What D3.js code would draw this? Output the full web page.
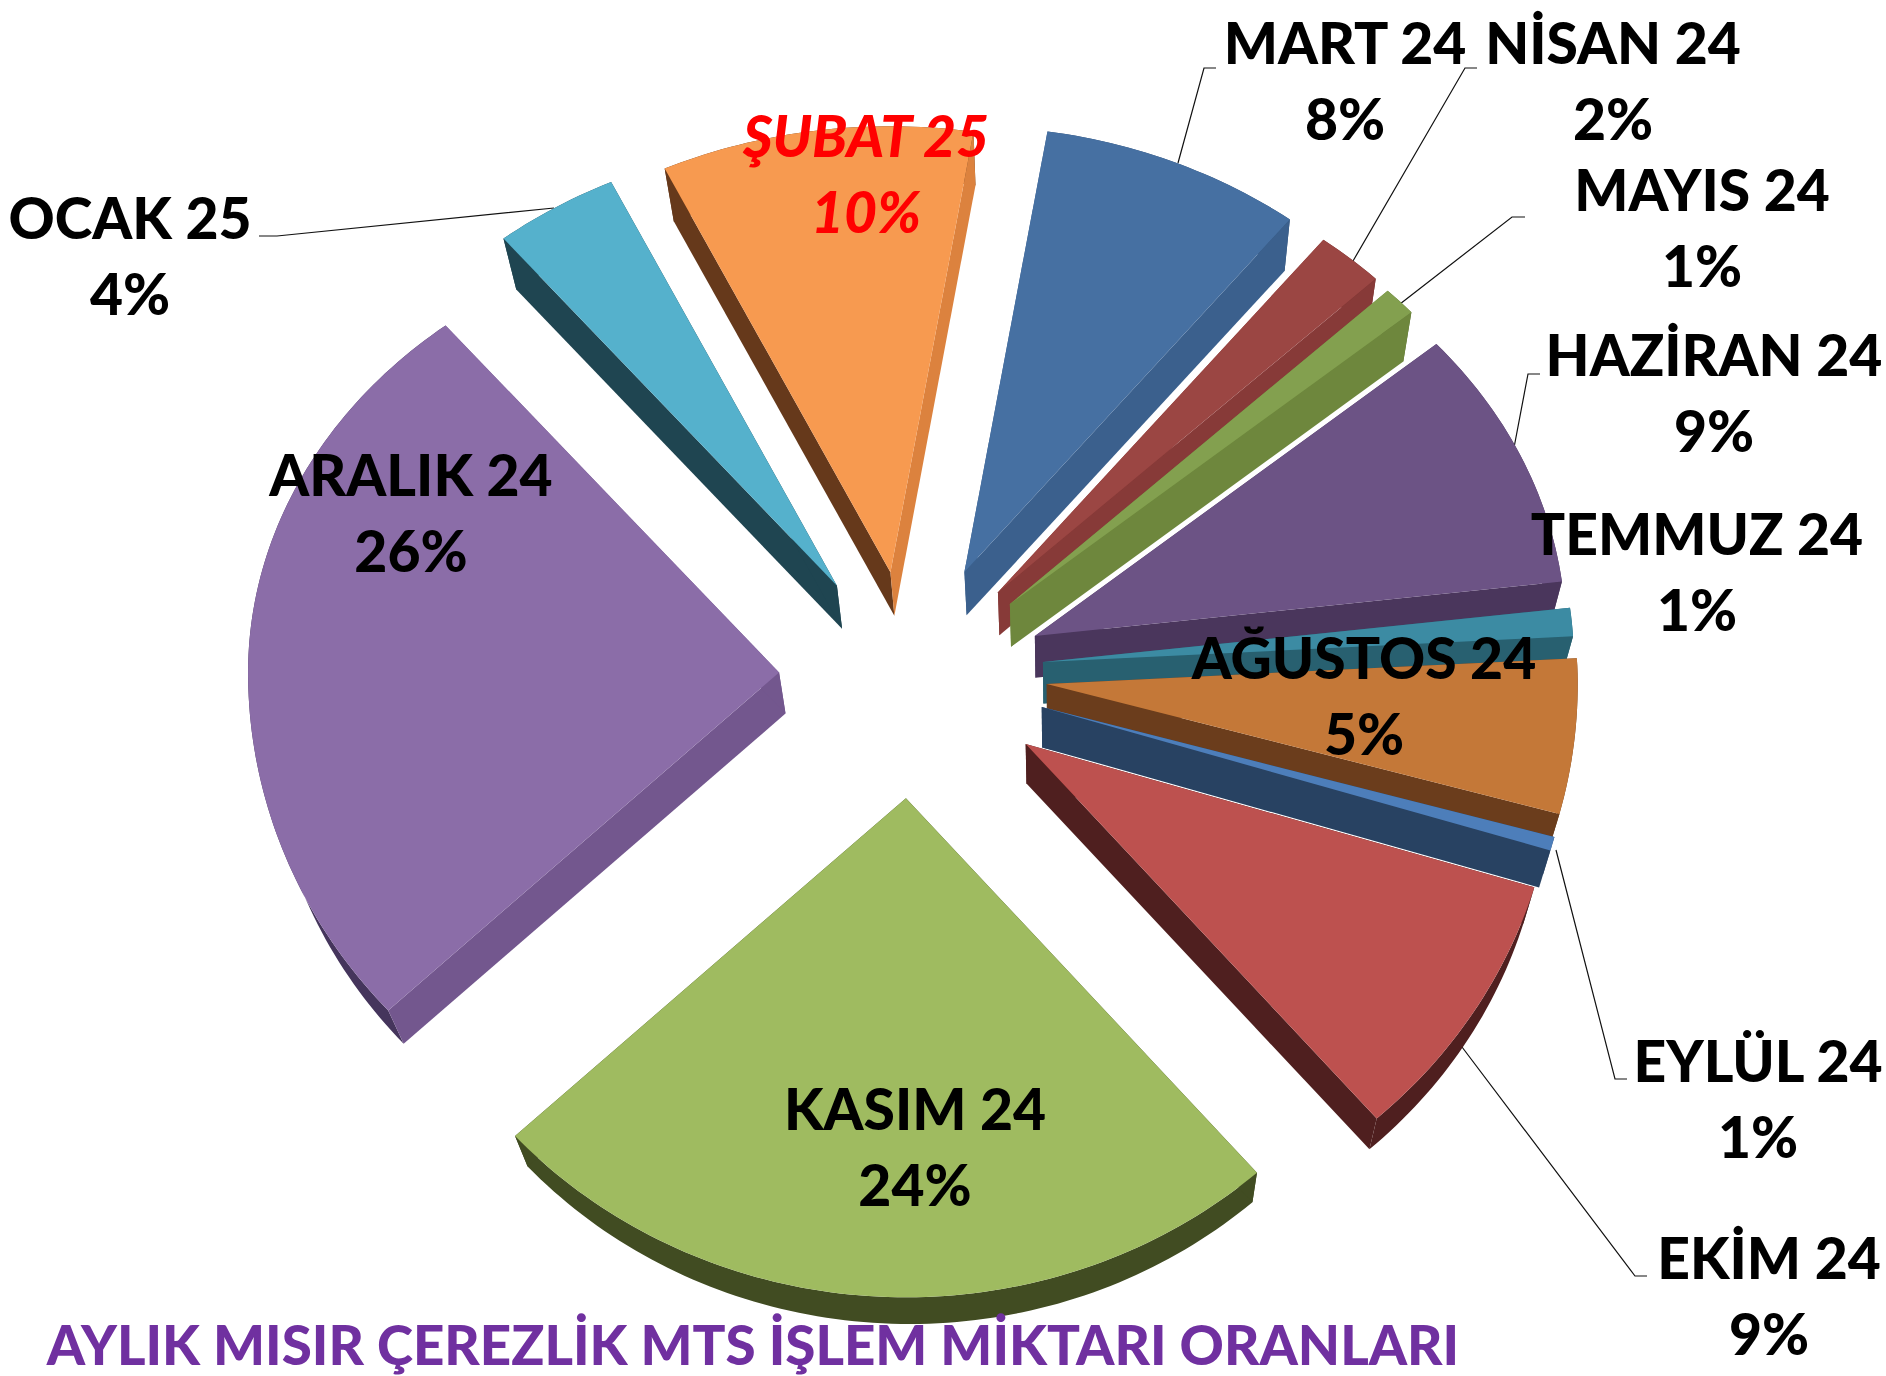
<!DOCTYPE html>
<html>
<head>
<meta charset="utf-8">
<style>
    html, body { margin: 0; padding: 0; background: #fff; }
    svg { display: block; }
    text { font-family: Lato, "Open Sans", sans-serif; font-weight: 900; text-anchor: middle; }
</style>
</head>
<body>
<div id="chart"></div>
<script src="https://cdn.jsdelivr.net/npm/d3@7"></script>
<script>
// Chart data
const months = ['MART 24', 'NİSAN 24', 'MAYIS 24', 'HAZİRAN 24', 'TEMMUZ 24', 'AĞUSTOS 24',
    'EYLÜL 24', 'EKİM 24', 'KASIM 24', 'ARALIK 24', 'OCAK 25', 'ŞUBAT 25'];
const shares = [8, 2, 1, 9, 1, 5, 1, 9, 24, 26, 4, 10];
const chartTitle = 'AYLIK MISIR ÇEREZLİK MTS İŞLEM MİKTARI ORANLARI';

// Face colours, same order as months
const topColors = ['#4670a2', '#9b4643', '#83a04f', '#6c5385', '#3c8ba3', '#c47838',
    '#4d7eba', '#bd514f', '#9fbb60', '#8b6da8', '#55b1cc', '#f79a50'];
const startWallColors = ['#3b608d', '#873a38', '#6e873d', '#4a365c', '#286070', '#6b3d1c',
    '#284262', '#4f1f1f', '#414c22', '#73578e', '#1f4551', '#66391b'];
const endWallColors = ['#3b608d', '#873a38', '#6e873d', '#4a365c', '#286070', '#6b3d1c',
    '#284262', '#4f1f1f', '#414c22', '#73578e', '#1f4551', '#dc823e'];
const rimColors = ['#2f4c70', '#6d2e2c', '#586c31', '#4a365c', '#286070', '#6b3d1c',
    '#284262', '#4f1f1f', '#414c22', '#45355c', '#1f4551', '#66391b'];

// Layout
const width = 1886;
const height = 1376;
const cx = 910;
const cy = 676;
const radius = 531;
const tiltUp = 0.84;
const tiltDown = 0.94;
const explodeX = [137, 133, 137, 138, 134, 137, 136, 137, 130, 131, 130, 125];
const explodeY = [135, 133, 125, 112, 132, 135, 133, 135, 130, 131, 130, 125];
const bottomScale = 0.977;
const bottomDrop = 41;
const bottomCx = 1060;

// The picture is not a true ellipse: nudge rim angles (degrees) to follow it
const rimWarp = d3.scaleLinear()
    .domain([0, 38, 48, 81, 103, 106.5, 138, 225, 320, 369])
    .range([0, 0, 0.5, 2, 2.5, 0.3, 0, 2.4, 2.5, 0]);

// label centre x, first baseline y
const labelPos = [[1345, 64], [1613, 64], [1702, 211], [1714, 376], [1697, 555], [1364, 679],
    [1758, 1082], [1769, 1279], [915, 1130], [411, 496], [130, 239], [866, 157]];
const lineGap = 76;

const leaders = [
    [[1216, 68], [1204, 68], [1178, 163]],
    [[1477, 68], [1465, 68], [1353, 261]],
    [[1525, 217], [1512, 217], [1400, 304]],
    [[1540, 374], [1528, 374], [1513, 453]],
    [[1627, 1079], [1615, 1079], [1556, 850]],
    [[1647, 1276], [1635, 1276], [1462, 1047]],
    [[259, 236], [277, 236], [554, 208]]
];

const svg = d3.select('#chart')
    .append('svg')
    .attr('width', width)
    .attr('height', height);

// Pie angles, first slice starts a little past twelve o'clock
const startDeg = 9;
const pie = d3.pie()
    .sort(null)
    .startAngle(startDeg * Math.PI / 180)
    .endAngle((startDeg + 360) * Math.PI / 180);

const slices = pie(shares).map((d, i) => {
    const mid = (d.startAngle + d.endAngle) / 2;
    return {
        i,
        start: d.startAngle,
        end: d.endAngle,
        mid,
        ax: cx + explodeX[i] * Math.sin(mid),
        ay: cy - explodeY[i] * Math.cos(mid) * (Math.cos(mid) > 0 ? tiltUp : tiltDown)
    };
});

// Top face point, the rim is flatter towards the back than the front
function topPoint(s, angle, r) {
    const a = angle + rimWarp(angle * 180 / Math.PI) * Math.PI / 180;
    const c = Math.cos(a);
    return [
        s.ax + r * Math.sin(a),
        s.ay - r * c * (c > 0 ? tiltUp : tiltDown)
    ];
}

// Matching point on the underside
function lowPoint(p) {
    return [
        bottomCx + (p[0] - bottomCx) * bottomScale,
        cy + (p[1] - cy) * bottomScale + bottomDrop
    ];
}

const line = d3.line();

function rimPoints(s) {
    const n = Math.max(4, Math.round((s.end - s.start) * 180 / Math.PI));
    return d3.range(n + 1).map(k => topPoint(s, s.start + (s.end - s.start) * k / n, radius));
}

// Leader lines sit under the slices
svg.append('g')
    .selectAll('path')
    .data(leaders)
    .join('path')
    .attr('d', d => line(d))
    .attr('fill', 'none')
    .attr('stroke', '#111')
    .attr('stroke-width', 1.2);

// Paint from the back of the pie to the front
const ordered = slices.slice().sort((a, b) => {
    return Math.abs(a.mid % (2 * Math.PI) - Math.PI) < Math.abs(b.mid % (2 * Math.PI) - Math.PI) ? 1 : -1;
});

const sliceGroups = svg.append('g')
    .selectAll('g')
    .data(ordered)
    .join('g');

sliceGroups.each(function(s) {
    const g = d3.select(this);
    const rim = rimPoints(s);
    const apex = [s.ax, s.ay];

    g.append('path')
        .attr('d', line(rim.concat(rim.map(lowPoint).reverse())) + 'Z')
        .attr('fill', rimColors[s.i]);

    g.append('path')
        .attr('d', line([apex, rim[0], lowPoint(rim[0]), lowPoint(apex)]) + 'Z')
        .attr('fill', startWallColors[s.i]);

    const last = rim[rim.length - 1];
    g.append('path')
        .attr('d', line([apex, last, lowPoint(last), lowPoint(apex)]) + 'Z')
        .attr('fill', endWallColors[s.i]);

    g.append('path')
        .attr('d', line([apex].concat(rim)) + 'Z')
        .attr('fill', topColors[s.i]);
});

// Data labels
const labels = svg.append('g')
    .selectAll('text')
    .data(slices)
    .join('text')
    .attr('x', d => labelPos[d.i][0])
    .attr('y', d => labelPos[d.i][1])
    .attr('font-size', 57)
    .attr('fill', d => months[d.i] === 'ŞUBAT 25' ? '#ff0000' : '#000')
    .attr('font-style', d => months[d.i] === 'ŞUBAT 25' ? 'italic' : 'normal');

labels.append('tspan')
    .attr('x', d => labelPos[d.i][0])
    .text(d => months[d.i]);

labels.append('tspan')
    .attr('x', d => labelPos[d.i][0])
    .attr('dy', lineGap)
    .text(d => shares[d.i] + '%');

// Title
svg.append('text')
    .attr('x', 753)
    .attr('y', 1365)
    .attr('font-size', 54.7)
    .attr('fill', '#7030a0')
    .text(chartTitle);
</script>
</body>
</html>
